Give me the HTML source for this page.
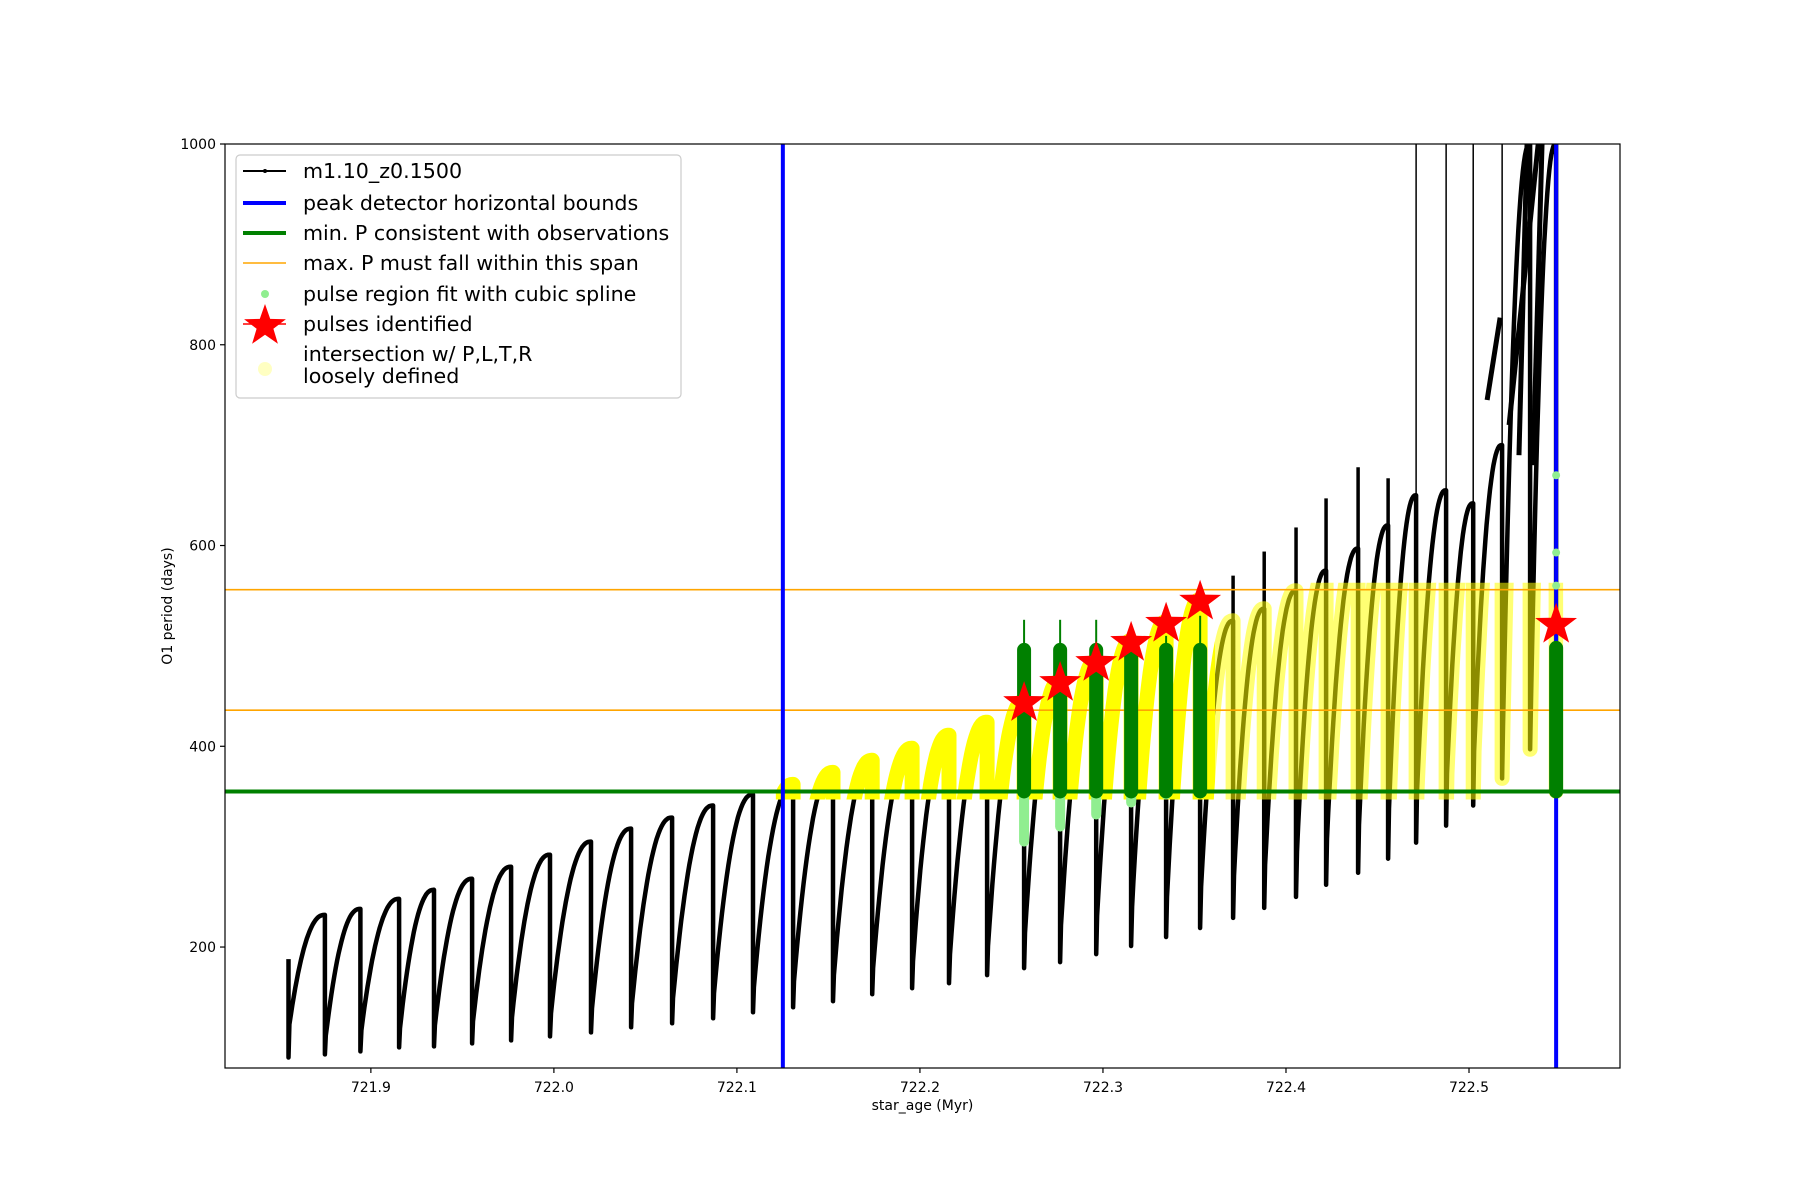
<!DOCTYPE html>
<html><head><meta charset="utf-8"><title>O1 period vs star age</title>
<style>html,body{margin:0;padding:0;background:#fff}svg{display:block;font-family:"DejaVu Sans","Liberation Sans",sans-serif}</style>
</head><body>
<svg id="chart" width="1800" height="1200" viewBox="0 0 1800 1200" xmlns="http://www.w3.org/2000/svg">
<defs>
<clipPath id="plotClip"><rect x="225" y="144" width="1395" height="924"/></clipPath>
</defs>
<rect width="1800" height="1200" fill="#fff"/>
<g id="marks" clip-path="url(#plotClip)"></g>
<rect x="225" y="144" width="1395" height="924" fill="none" stroke="#000" stroke-width="1.2"/>
<g id="axes"></g>
<g id="legend">
<rect x="236" y="155" width="445" height="243" rx="4" fill="#fff" fill-opacity="0.85" stroke="#ccc" stroke-width="1.2"/>
<g><line x1="243" y1="171" x2="286" y2="171" stroke="#000" stroke-width="2"/><circle cx="265" cy="171" r="2" fill="#000"/><text x="303" y="178" font-size="20.6">m1.10_z0.1500</text></g>
<g><line x1="243" y1="203" x2="286" y2="203" stroke="#0000ff" stroke-width="4"/><text x="303" y="210" font-size="20.6">peak detector horizontal bounds</text></g>
<g><line x1="243" y1="233" x2="286" y2="233" stroke="#008000" stroke-width="4"/><text x="303" y="240" font-size="20.6">min. P consistent with observations</text></g>
<g><line x1="243" y1="263" x2="286" y2="263" stroke="#ffa500" stroke-width="1.5"/><text x="303" y="270" font-size="20.6">max. P must fall within this span</text></g>
<g><circle cx="265" cy="294" r="4" fill="#90ee90"/><text x="303" y="301" font-size="20.6">pulse region fit with cubic spline</text></g>
<g><line x1="243" y1="324" x2="286" y2="324" stroke="#f00" stroke-width="1.5"/><polygon id="legendStar" fill="#f00"/><text x="303" y="331" font-size="20.6">pulses identified</text></g>
<g><circle cx="265" cy="369" r="7" fill="#ffff99" fill-opacity="0.6"/><text x="303" y="361" font-size="20.6">intersection w/ P,L,T,R</text><text x="303" y="383" font-size="20.6">loosely defined</text></g>
</g>
</svg>
<script>
// ---- data ----
const xTicks = [721.9, 722.0, 722.1, 722.2, 722.3, 722.4, 722.5];
const yTicks = [200, 400, 600, 800, 1000];
const pulseAges = [721.8550,721.8749,721.8943,721.9154,721.9345,721.9553,721.9766,721.9979,722.0203,722.0422,722.0646,722.0870,722.1088,722.1307,722.1525,722.1739,722.1957,722.2159,722.2367,722.2569,722.2766,722.2963,722.3154,722.3345,722.3531,722.3711,722.3881,722.4055,722.4219,722.4394,722.4558,722.4711,722.4875,722.5023,722.5181,722.5334,722.5476];
const peakP = [188,232,238,248,257,268,280,292,305,318,329,341,352,362,374,386,398,411,424,445,465,485,505,524,546,525,537,555,575,597,620,650,655,642,700,1000,1000];
const minP = [90,93,96,100,101,104,107,111,115,120,124,129,135,140,146,153,159,164,172,179,185,193,201,210,219,229,239,250,262,274,288,304,321,341,368,397,355];
const hookP = [123,112,117,119,122,126,130,134,139,144,149,154,160,166,172,179,186,193,201,214,222,231,240,250,260,271,282,295,308,322,338,355,373,395,420,450,400];
const spikeIdx = [25,26,27,28,29,30,31,32,33,34];
const spikeTop = [570,594,618,647,678,667,1000,1000,1000,1000];
const extraAge0 = [722.5099,722.5219,722.5273,722.5350];
const extraP0 = [745,720,690,680];
const extraAge1 = [722.5170,722.5378,722.5317,722.5399];
const extraP1 = [827,1000,1000,1000];
const boundAges = [722.1251, 722.5476];
const minPeriod = 355;
const maxSpan = [436, 556];
const greenAges = [722.2569,722.2766,722.2963,722.3154,722.3345,722.3531,722.5476];
const greenTop = [496,496,496,496,496,496,498];
const greenThinTop = [526,526,526,508,510,530,498];
const lightBottom = [305,320,332,344,352,355,355];
const starP = [445,465,485,505,524,546,523];
const splineDotAge = [722.5476,722.5476,722.5476];
const splineDotP = [670,593,560];

// ---- scales ----
const X0=225,X1=1620,Y0=144,Y1=1068;
const xMin=721.8203, xMax=722.5825, yMin=79.5, yMax=1000;
function xS(a){return X0+(a-xMin)/(xMax-xMin)*(X1-X0);}
function yS(v){return Y0+(yMax-v)/(yMax-yMin)*(Y1-Y0);}
const NS="http://www.w3.org/2000/svg";
function mk(tag,attrs,parent){const e=document.createElementNS(NS,tag);for(const k in attrs)e.setAttribute(k,attrs[k]);parent.appendChild(e);return e;}
const marks=document.getElementById('marks');
const axes=document.getElementById('axes');
const defs=document.querySelector('defs');

// ---- black model curve ----
let pts=[];
for(let i=0;i<pulseAges.length;i++){
  const t=pulseAges[i];
  pts.push([xS(t),yS(peakP[i])]);
  pts.push([xS(t),yS(minP[i])]);
  pts.push([xS(t+0.0005),yS(hookP[i])]);
  if(i<pulseAges.length-1){
    const t2=pulseAges[i+1]-0.0004, h=hookP[i], p=peakP[i+1];
    for(let k=1;k<=24;k++){
      const f=k/24;
      const v=h+(p-h)*(1-Math.pow(1-f,2.2));
      pts.push([xS(t+0.0005+(t2-t-0.0005)*f),yS(v)]);
    }
  }
}
const dStr=pts.map((p,i)=>(i?'L':'M')+p[0].toFixed(1)+' '+p[1].toFixed(1)).join('');
const blk=mk('path',{d:dStr,fill:'none',stroke:'#000','stroke-width':4.5,'stroke-linejoin':'round'},marks);


for(let j=0;j<spikeIdx.length;j++){
  const t=pulseAges[spikeIdx[j]];
  const s=mk('line',{x1:xS(t),x2:xS(t),y1:yS(spikeTop[j]),y2:yS(peakP[spikeIdx[j]]),stroke:'#000','stroke-width':spikeTop[j]>=1000?1.5:3.5},marks);
  
  
}
for(let j=0;j<extraAge0.length;j++){
  const s=mk('line',{x1:xS(extraAge0[j]),x2:xS(extraAge1[j]),y1:yS(extraP0[j]),y2:yS(extraP1[j]),stroke:'#000','stroke-width':5},marks);
  
  
}

// ---- yellow intersection ----
const ySplit=1215;
const c1=mk('clipPath',{id:'yc1'},defs);
mk('rect',{x:xS(boundAges[0])-7,y:yS(maxSpan[1])-7,width:ySplit-(xS(boundAges[0])-7),height:yS(minPeriod)-yS(maxSpan[1])+15},c1);
const c2=mk('clipPath',{id:'yc2'},defs);
mk('rect',{x:ySplit,y:yS(maxSpan[1])-7,width:xS(boundAges[1])+7-ySplit,height:yS(minPeriod)-yS(maxSpan[1])+15},c2);
const yl1=mk('path',{d:dStr,fill:'none',stroke:'#ffff00','stroke-width':15,'stroke-linejoin':'round','stroke-linecap':'round','clip-path':'url(#yc1)'},marks);


const yl2=mk('path',{d:dStr,fill:'none',stroke:'#ffff00','stroke-opacity':0.55,'stroke-width':15,'stroke-linejoin':'round','stroke-linecap':'round','clip-path':'url(#yc2)'},marks);



// ---- reference lines ----
for(const v of maxSpan){
  const l=mk('line',{x1:X0,x2:X1,y1:yS(v),y2:yS(v),stroke:'#ffa500','stroke-width':1.6},marks);
  
  
}
const gl=mk('line',{x1:X0,x2:X1,y1:yS(minPeriod),y2:yS(minPeriod),stroke:'#008000','stroke-width':4},marks);


for(const a of boundAges){
  const l=mk('line',{x1:xS(a),x2:xS(a),y1:Y0,y2:Y1,stroke:'#0000ff','stroke-width':4},marks);
  
  
}

// ---- green pulse fits ----
for(let j=0;j<greenAges.length;j++){
  const x=xS(greenAges[j]);
  const lg=mk('line',{x1:x,x2:x,y1:yS(minPeriod),y2:yS(lightBottom[j]),stroke:'#90ee90','stroke-width':10,'stroke-linecap':'round'},marks);
  
  
  const th=mk('line',{x1:x,x2:x,y1:yS(greenThinTop[j]),y2:yS(greenTop[j]),stroke:'#008000','stroke-width':2},marks);
  
  
  const g=mk('line',{x1:x,x2:x,y1:yS(greenTop[j]),y2:yS(minPeriod),stroke:'#008000','stroke-width':14,'stroke-linecap':'round'},marks);
  
  
}
for(let j=0;j<splineDotAge.length;j++){
  const c=mk('circle',{cx:xS(splineDotAge[j]),cy:yS(splineDotP[j]),r:4,fill:'#90ee90'},marks);
  
  
}

// ---- stars ----
function starPts(cx,cy,R){const r=R*0.4;let s=[];for(let k=0;k<10;k++){const ang=-Math.PI/2+k*Math.PI/5;const rr=k%2?r:R;s.push((cx+rr*Math.cos(ang)).toFixed(1)+','+(cy+rr*Math.sin(ang)).toFixed(1));}return s.join(' ');}
for(let j=0;j<greenAges.length;j++){
  const s=mk('polygon',{points:starPts(xS(greenAges[j]),yS(starP[j])+2,22),fill:'#ff0000'},marks);
  
  
}
document.getElementById('legendStar').setAttribute('points',starPts(265,326,22));

// ---- axes ----
for(const t of xTicks){
  const x=xS(t);
  const tk=mk('line',{x1:x,x2:x,y1:Y1,y2:Y1+5,stroke:'#000','stroke-width':1.2},axes);
  
  
  const tx=mk('text',{x:x,y:Y1+24,'font-size':14,'text-anchor':'middle'},axes);
  tx.textContent=t.toFixed(1);
  
  
}
for(const t of yTicks){
  const y=yS(t);
  const tk=mk('line',{x1:X0-5,x2:X0,y1:y,y2:y,stroke:'#000','stroke-width':1.2},axes);
  
  
  const tx=mk('text',{x:X0-9,y:y+5,'font-size':14,'text-anchor':'end'},axes);
  tx.textContent=String(t);
  
  
}
const xl=mk('text',{x:(X0+X1)/2,y:1110,'font-size':14,'text-anchor':'middle'},axes);
xl.textContent='star_age (Myr)';


const yl=mk('text',{x:0,y:0,'font-size':14,'text-anchor':'middle',transform:'translate(172,'+((Y0+Y1)/2)+') rotate(-90)'},axes);
yl.textContent='O1 period (days)';


</script>
</body></html>
